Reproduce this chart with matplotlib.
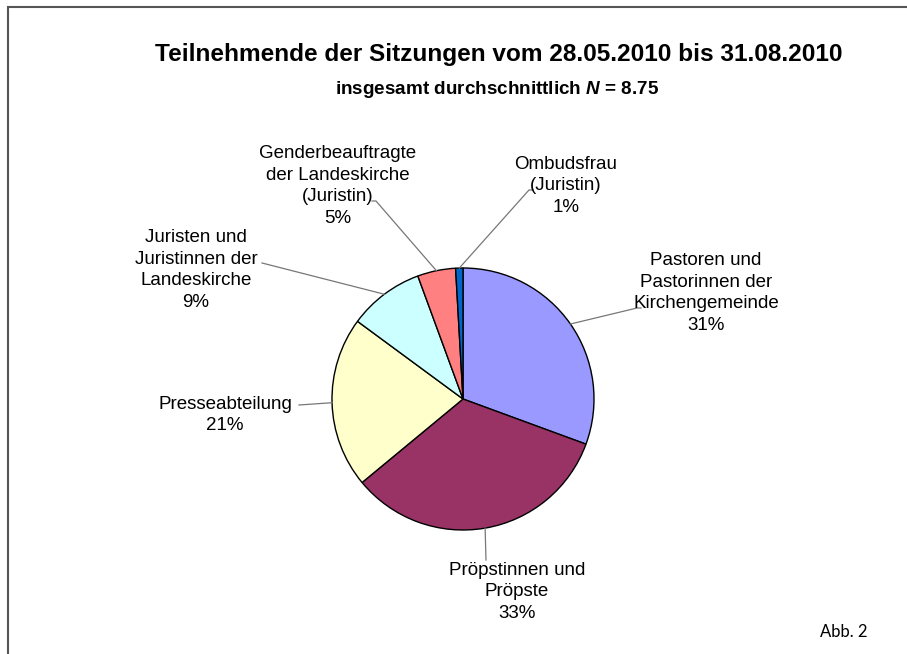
import numpy as np
import matplotlib
matplotlib.use('Agg')
from matplotlib import pyplot as plt
from matplotlib.patches import Rectangle

plt.rcParams['font.family'] = ['Liberation Sans', 'DejaVu Sans']
plt.rcParams['mathtext.fontset'] = 'custom'
plt.rcParams['mathtext.rm'] = 'Liberation Sans:weight=bold'
plt.rcParams['mathtext.it'] = 'Liberation Sans:weight=bold:style=italic'

# data (share of participants in %)
groups = ['Pastoren und\nPastorinnen der\nKirchengemeinde',
          'Pröpstinnen und\nPröpste',
          'Presseabteilung',
          'Juristen und\nJuristinnen der\nLandeskirche',
          'Genderbeauftragte\nder Landeskirche\n(Juristin)',
          'Ombudsfrau\n(Juristin)']
shares = [30.6, 33.4, 21.1, 9.3, 4.7, 0.9]
colors = ['#9999FF', '#993366', '#FFFFCC', '#CCFFFF', '#FF8080', '#0066CC']

# layout in pixels (origin top left)
W, H = 907, 654
center = (463, 399)
radius = 131
label_pos = [(706, 293), (517, 592), (225, 415), (196, 270), (338, 186), (566, 186)]
leader_end = [(637, 308), (486, 560), (299, 405), (262, 263), (376, 201), (529, 190)]
leader_tick = [(641, 308), None, None, None, (372, 201), (533, 190)]

fig = plt.figure(figsize=(W / 100, H / 100), dpi=100)
ax = fig.add_axes([0, 0, 1, 1])
ax.set_xlim(0, W)
ax.set_ylim(0, H)
ax.axis('off')


def py(y):
    return H - y


wedges, _ = ax.pie(shares, colors=colors, startangle=90, counterclock=False,
                   center=(center[0], py(center[1])), radius=radius,
                   wedgeprops=dict(edgecolor='black', linewidth=1.0))
ax.set_xlim(0, W)
ax.set_ylim(0, H)

for w, name, share, pos, end, tick in zip(wedges, groups, shares, label_pos,
                                           leader_end, leader_tick):
    mid = np.deg2rad((w.theta1 + w.theta2) / 2)
    sx = center[0] + radius * np.cos(mid)
    sy = py(center[1]) + radius * np.sin(mid)
    xs = [sx, end[0]]
    ys = [sy, py(end[1])]
    if tick is not None:
        xs.append(tick[0])
        ys.append(py(tick[1]))
    ax.plot(xs, ys, color='#777777', lw=0.9)
    ax.text(pos[0], py(pos[1]), '{}\n{}%'.format(name, round(share)),
            ha='center', va='center', fontsize=13.5, linespacing=1.35)

ax.text(499, py(55), 'Teilnehmende der Sitzungen vom 28.05.2010 bis 31.08.2010',
        ha='center', va='center', fontsize=17.6, fontweight='bold')
ax.text(497, py(90), r'insgesamt durchschnittlich $N$ = 8.75',
        ha='center', va='center', fontsize=13.6, fontweight='bold')
ax.text(868, py(632), 'Abb. 2', ha='right', va='center', fontsize=12,
        family=['Lato', 'DejaVu Sans'])

# outer frame
ax.add_patch(Rectangle((8, py(H + 20)), W + 20, H + 20 - 7, fill=False,
                       edgecolor='#555555', lw=1.5, clip_on=False))

fig.savefig('out.png', dpi=100)
